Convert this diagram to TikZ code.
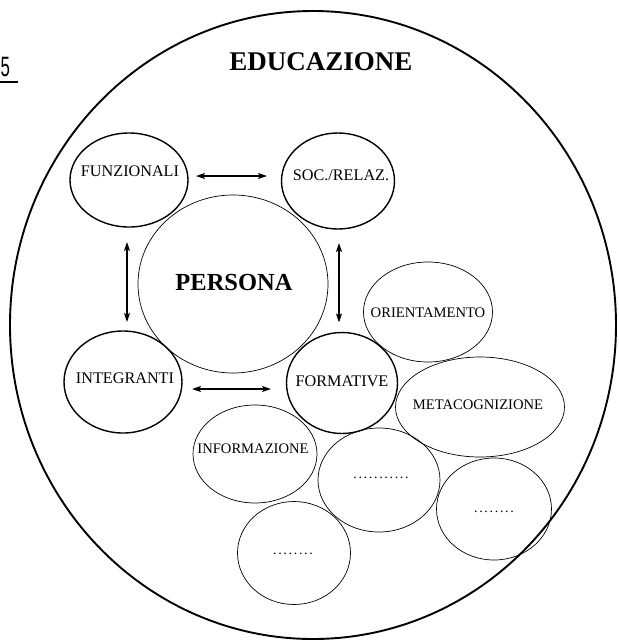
\documentclass[tikz,border=0pt]{standalone}
\usepackage{fontspec}
\setmainfont{Liberation Serif}
\setsansfont{Liberation Sans}
\usetikzlibrary{shapes.geometric,arrows.meta}
\begin{document}
\begin{tikzpicture}[x=1pt,y=-1pt,
  ring/.style={draw, ellipse, inner sep=0pt, outer sep=0pt},
  solidc/.style={ring, line width=1.4pt},
  thinc/.style={ring, line width=0.7pt},
  lab/.style={inner sep=0pt, font=\fontsize{16.2}{16.2}\selectfont},
  labs/.style={inner sep=0pt, font=\fontsize{14.6}{14.6}\selectfont},
  dotlab/.style={inner sep=0pt, font=\fontsize{14}{14}\selectfont\addfontfeature{LetterSpace=12}},
  twoway/.style={{Stealth[length=9pt,width=6pt,inset=2pt]}-{Stealth[length=9pt,width=6pt,inset=2pt]}, line width=1.3pt}]
\useasboundingbox (0,0) rectangle (619,641);

% outer ring
\node[ring, line width=1.9pt, minimum width=606pt, minimum height=628pt] (edu) at (313,325) {};
\node[inner sep=0pt, font=\bfseries\fontsize{27}{27}\selectfont] (title) at (321,62) {EDUCAZIONE};

% page number fragment
\node[inner sep=0pt, anchor=west, font=\sffamily\fontsize{28}{28}\selectfont] (num) at (0.5,67) {\scalebox{0.6}[1]{5}};
\coordinate (ula) at (0,82);
\coordinate (ulb) at (18,82);
\draw[line width=1.2pt] (ula) -- (ulb);

% main circles
\node[thinc, minimum width=190pt, minimum height=178pt] (pers) at (233,284) {};
\node[inner sep=0pt, font=\bfseries\fontsize{24.5}{24.5}\selectfont] (tpers) at (234,283) {PERSONA};

\node[solidc, minimum width=118pt, minimum height=94pt] (fun) at (129,180) {};
\node[lab] (tfun) at (130,171) {FUNZIONALI};

\node[solidc, minimum width=113pt, minimum height=96pt] (soc) at (338,181) {};
\node[lab] (tsoc) at (341,175) {SOC./RELAZ.};

\node[solidc, minimum width=118pt, minimum height=102pt] (int) at (123,382) {};
\node[lab] (tint) at (125,378) {INTEGRANTI};

\node[solidc, minimum width=111pt, minimum height=101pt] (form) at (342,383) {};
\node[lab] (tform) at (342,381) {FORMATIVE};

% thin circles
\node[thinc, minimum width=129pt, minimum height=100pt] (ori) at (428,312) {};
\node[labs] (tori) at (428,312.5) {ORIENTAMENTO};

\node[thinc, minimum width=169pt, minimum height=100pt] (meta) at (480,407) {};
\node[labs] (tmeta) at (478,405) {METACOGNIZIONE};

\node[thinc, minimum width=124pt, minimum height=98pt] (info) at (255,454) {};
\node[labs] (tinfo) at (253,448.5) {INFORMAZIONE};

\node[thinc, minimum width=122pt, minimum height=104pt] (d1) at (379,480) {};
\node[dotlab] (td1) at (381,478) {...........};

\node[thinc, minimum width=115pt, minimum height=102pt] (d2) at (494,509) {};
\node[dotlab] (td2) at (494,512) {........};

\node[thinc, minimum width=113pt, minimum height=103pt] (d3) at (294,553) {};
\node[dotlab] (td3) at (293,554) {........};

% arrows
\draw[twoway, shorten <=8pt, shorten >=14.5pt] ([yshift=4pt]fun.east) -- ([yshift=4pt]fun.east -| soc.west);
\draw[twoway, shorten <=15pt, shorten >=9pt] ([xshift=-2pt]fun.south) -- ([xshift=-2pt]fun.south |- int.north);
\draw[twoway, shorten <=14pt, shorten >=10pt] ([xshift=1pt]soc.south) -- ([xshift=1pt]soc.south |- form.north);
\draw[twoway, shorten <=10pt, shorten >=15.5pt] ([yshift=-7pt]int.east) -- ([yshift=-7pt]int.east -| form.west);
\end{tikzpicture}
\end{document}
